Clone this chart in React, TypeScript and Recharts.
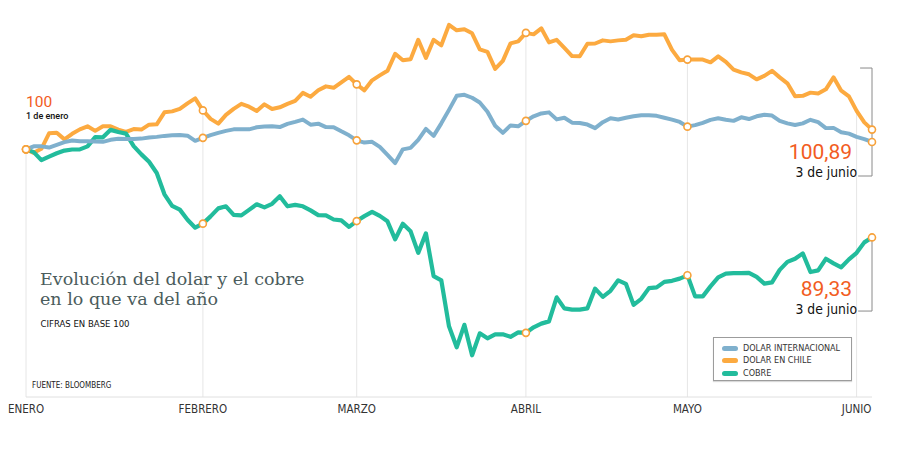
import React from "react";
import { LineChart, Line, XAxis, YAxis, ReferenceLine } from "recharts";

// Meses del eje y el índice de la primera rueda de cada uno
const MESES = ["ENERO", "FEBRERO", "MARZO", "ABRIL", "MAYO", "JUNIO"];
const INICIO_MES = [0, 23, 43, 65, 86, 108];
// Puntos marcados con círculo (inicio de mes y último dato, 3 de junio)
const MARCAS = [0, 23, 43, 65, 86, 110];

// Base 100 = 1 de enero
const DOLAR_INTERNACIONAL = [
  100, 100.36, 100.36, 100.22, 100.55, 100.87, 101.07, 100.97, 100.99, 100.94,
  100.91, 101.15, 101.27, 101.24, 101.24, 101.3, 101.43, 101.51, 101.63, 101.7,
  101.73, 101.66, 101.03, 101.39, 101.72, 102.0, 102.24, 102.42, 102.42, 102.42,
  102.67, 102.76, 102.8, 102.7, 103.09, 103.33, 103.6, 102.99, 103.11, 102.7,
  102.69, 102.18, 101.7, 101.09, 100.82, 100.91, 100.3, 99.33, 98.34, 100.0,
  100.18, 101.15, 102.48, 101.63, 103.15, 104.78, 106.48, 106.61, 106.25, 105.67,
  104.56, 102.85, 102.0, 102.9, 102.79, 103.45, 104.0, 104.35, 104.48, 103.63,
  103.82, 103.23, 103.19, 103.0, 102.57, 103.29, 103.76, 103.61, 103.82, 104.0,
  104.12, 104.12, 104.06, 103.82, 103.6, 103.32, 102.75, 102.93, 103.21, 103.57,
  103.76, 103.58, 103.45, 103.88, 103.67, 104.0, 104.18, 104.09, 103.45, 103.15,
  102.94, 103.15, 103.58, 103.29, 102.57, 102.6, 102.08, 101.9, 101.51, 101.24,
  100.89,
];

const DOLAR_CHILE = [
  100, 99.58, 100.06, 101.94, 102.0, 101.21, 101.88, 102.42, 102.79, 102.24,
  102.79, 102.79, 102.39, 102.12, 102.45, 102.39, 102.99, 103.03, 104.48, 104.6,
  104.91, 105.57, 106.18, 104.72, 103.69, 103.11, 104.18, 104.91, 105.51, 105.17,
  104.64, 105.45, 104.88, 105.09, 105.51, 105.88, 106.84, 106.36, 107.15, 107.63,
  107.45, 108.12, 108.78, 107.87, 107.15, 108.36, 108.96, 109.51, 111.57, 110.78,
  110.9, 113.27, 111.08, 113.27, 112.6, 115.08, 114.42, 114.54, 114.05, 112.11,
  111.81, 109.75, 110.72, 112.84, 113.08, 114.11, 113.93, 114.66, 112.96, 113.27,
  112.3, 111.3, 111.27, 112.8, 112.82, 113.2, 113.08, 113.2, 113.27, 113.81,
  113.69, 113.89, 113.89, 113.93, 112.05, 110.78, 110.87, 110.87, 110.87, 110.54,
  111.27, 110.6, 109.66, 109.33, 109.09, 108.48, 108.9, 109.51, 108.72, 108.0,
  106.42, 106.48, 106.87, 106.76, 107.27, 108.72, 107.11, 106.42, 104.66, 103.27,
  102.39,
];

const COBRE = [
  100, 99.66, 98.69, 99.12, 99.52, 99.85, 99.98, 100.0, 100.36, 101.48,
  101.45, 102.36, 102.1, 101.9, 100.39, 99.39, 98.49, 97.13, 94.55, 93.16,
  92.7, 91.48, 90.51, 91.0, 91.88, 92.85, 93.1, 92.07, 92.0, 92.67,
  93.34, 92.97, 93.4, 94.31, 93.1, 93.28, 93.1, 92.61, 92.03, 91.99,
  91.5, 91.4, 90.61, 91.31, 91.91, 92.43, 91.94, 91.28, 89.1, 90.98,
  90.07, 87.46, 89.82, 84.65, 84.13, 78.56, 76.02, 78.74, 75.05, 77.71,
  77.11, 77.59, 77.59, 77.29, 77.83, 77.77, 78.44, 78.89, 79.16, 82.07,
  80.74, 80.58, 80.58, 80.74, 83.13, 82.13, 82.86, 84.13, 83.71, 81.16,
  81.89, 83.19, 83.28, 83.95, 84.07, 84.34, 84.74, 82.19, 82.19, 83.4,
  84.49, 84.94, 85.01, 85.01, 85.04, 84.55, 83.73, 83.89, 85.4, 86.37,
  86.74, 87.4, 85.14, 85.34, 86.74, 86.19, 85.71, 86.67, 87.46, 88.73,
  89.33,
];

const SERIES = [
  { key: "internacional", name: "DOLAR INTERNACIONAL", color: "#7fb0cd" },
  { key: "chile", name: "DOLAR EN CHILE", color: "#fcaa40" },
  { key: "cobre", name: "COBRE", color: "#22bc9c" },
];

const data = DOLAR_INTERNACIONAL.map((v, i) => ({
  i,
  internacional: v,
  chile: DOLAR_CHILE[i],
  cobre: COBRE[i],
}));

const ULTIMO = data.length - 1;
const NARROW = "'DejaVu Sans Condensed', 'DejaVu Sans', sans-serif";
const SANS = "Roboto, 'Noto Sans', sans-serif";
const NARANJA = "#f25c22";
const GRIS = "#e6e6e6";

const fmt = (v: number) => v.toFixed(2).replace(".", ",");

const marcador = (props: any) => {
  const { cx, cy, index } = props;
  if (!MARCAS.includes(index)) return <g key={`d-${index}`} />;
  return (
    <circle
      key={`d-${index}`}
      cx={cx}
      cy={cy}
      r={3.5}
      fill="#fff"
      stroke="#f7a23b"
      strokeWidth={1.6}
    />
  );
};

const abs = (style: React.CSSProperties): React.CSSProperties => ({
  position: "absolute",
  whiteSpace: "nowrap",
  margin: 0,
  ...style,
});

const narrow = (size: number): React.CSSProperties => ({
  fontFamily: NARROW,
  fontStretch: "condensed",
  fontSize: size,
  lineHeight: `${size}px`,
});

export default function App() {
  return (
    <div style={{ position: "absolute", left: 0, top: 0, width: 900, height: 455, background: "#fff" }}>
      <LineChart
        width={900}
        height={455}
        data={data}
        margin={{ top: 9, right: 28, bottom: 28, left: 26 }}
      >
        <XAxis
          dataKey="i"
          type="number"
          domain={[0, ULTIMO]}
          ticks={INICIO_MES}
          tickFormatter={(v: number) => MESES[INICIO_MES.indexOf(v)] ?? ""}
          height={30}
          tickLine={false}
          tickMargin={2}
          axisLine={{ stroke: "#e0e0e0" }}
          tick={{ fill: "#333", fontSize: 11.5, fontFamily: NARROW, style: { fontStretch: "condensed" } }}
          interval={0}
        />
        <YAxis hide domain={[70, 117]} />

        {/* líneas de mes: desde el dólar en Chile hasta la base */}
        {INICIO_MES.map((m) => (
          <ReferenceLine
            key={`mes-${m}`}
            segment={[
              { x: m, y: m === 0 ? 100 : DOLAR_CHILE[m] },
              { x: m, y: 70 },
            ]}
            stroke={GRIS}
            strokeWidth={1}
          />
        ))}

        {/* corchetes de los valores finales */}
        <ReferenceLine segment={[{ x: 108.45, y: 109.85 }, { x: ULTIMO, y: 109.85 }]} stroke="#8a8a8a" />
        <ReferenceLine segment={[{ x: ULTIMO, y: 109.85 }, { x: ULTIMO, y: 96.77 }]} stroke="#8a8a8a" />
        <ReferenceLine segment={[{ x: 108.2, y: 96.77 }, { x: ULTIMO, y: 96.77 }]} stroke="#8a8a8a" />
        <ReferenceLine segment={[{ x: ULTIMO, y: COBRE[ULTIMO] }, { x: ULTIMO, y: 80.41 }]} stroke="#8a8a8a" />
        <ReferenceLine segment={[{ x: 108.2, y: 80.41 }, { x: ULTIMO, y: 80.41 }]} stroke="#8a8a8a" />

        <Line
          dataKey="chile"
          stroke={SERIES[1].color}
          strokeWidth={4}
          dot={marcador}
          activeDot={false}
          isAnimationActive={false}
          strokeLinejoin="round"
        />
        <Line
          dataKey="cobre"
          stroke={SERIES[2].color}
          strokeWidth={4.2}
          dot={marcador}
          activeDot={false}
          isAnimationActive={false}
          strokeLinejoin="round"
        />
        <Line
          dataKey="internacional"
          stroke={SERIES[0].color}
          strokeWidth={4}
          dot={marcador}
          activeDot={false}
          isAnimationActive={false}
          strokeLinejoin="round"
        />
      </LineChart>

      {/* punto de partida */}
      <div style={abs({ left: 26, top: 95, fontFamily: SANS, fontSize: 15.5, lineHeight: "15.5px", color: NARANJA })}>
        {DOLAR_CHILE[0]}
      </div>
      <div style={abs({ left: 26, top: 112, fontFamily: SANS, fontSize: 9, lineHeight: "9px", fontWeight: 500, color: "#111" })}>
        1 de enero
      </div>

      {/* valores al 3 de junio */}
      <div style={abs({ right: 48, top: 142, fontFamily: SANS, fontSize: 21, lineHeight: "20px", color: NARANJA })}>
        {fmt(DOLAR_INTERNACIONAL[ULTIMO])}
      </div>
      <div style={abs({ right: 43, top: 165.5, ...narrow(13.8), color: "#111" })}>3 de junio</div>
      <div style={abs({ right: 48, top: 279, fontFamily: SANS, fontSize: 21, lineHeight: "20px", color: NARANJA })}>
        {fmt(COBRE[ULTIMO])}
      </div>
      <div style={abs({ right: 43, top: 302.5, ...narrow(13.8), color: "#111" })}>3 de junio</div>

      {/* título */}
      <div style={abs({ left: 40, top: 270, fontFamily: "'DejaVu Serif', serif", fontSize: 17.5, lineHeight: "19.5px", color: "#4b5c5c" })}>
        Evolución del dolar y el cobre
        <br />
        en lo que va del año
      </div>
      <div style={abs({ left: 40.5, top: 318.5, ...narrow(9.5), color: "#111" })}>CIFRAS EN BASE 100</div>
      <div style={abs({ left: 32, top: 382, ...narrow(8), color: "#222" })}>FUENTE: BLOOMBERG</div>

      {/* leyenda */}
      <div
        style={abs({
          left: 713,
          top: 337,
          width: 139,
          height: 44,
          border: "1px solid #9c9c9c",
          boxShadow: "0 1px 1px rgba(0,0,0,0.15)",
          background: "#fff",
          paddingTop: 4,
          boxSizing: "border-box",
        })}
      >
        {SERIES.map((s) => (
          <div key={s.key} style={{ display: "flex", alignItems: "center", height: 12.5, paddingLeft: 8 }}>
            <span style={{ display: "inline-block", width: 16, height: 5, borderRadius: 3, background: s.color, marginRight: 5 }} />
            <span style={{ ...narrow(9), color: "#333" }}>{s.name}</span>
          </div>
        ))}
      </div>
    </div>
  );
}
